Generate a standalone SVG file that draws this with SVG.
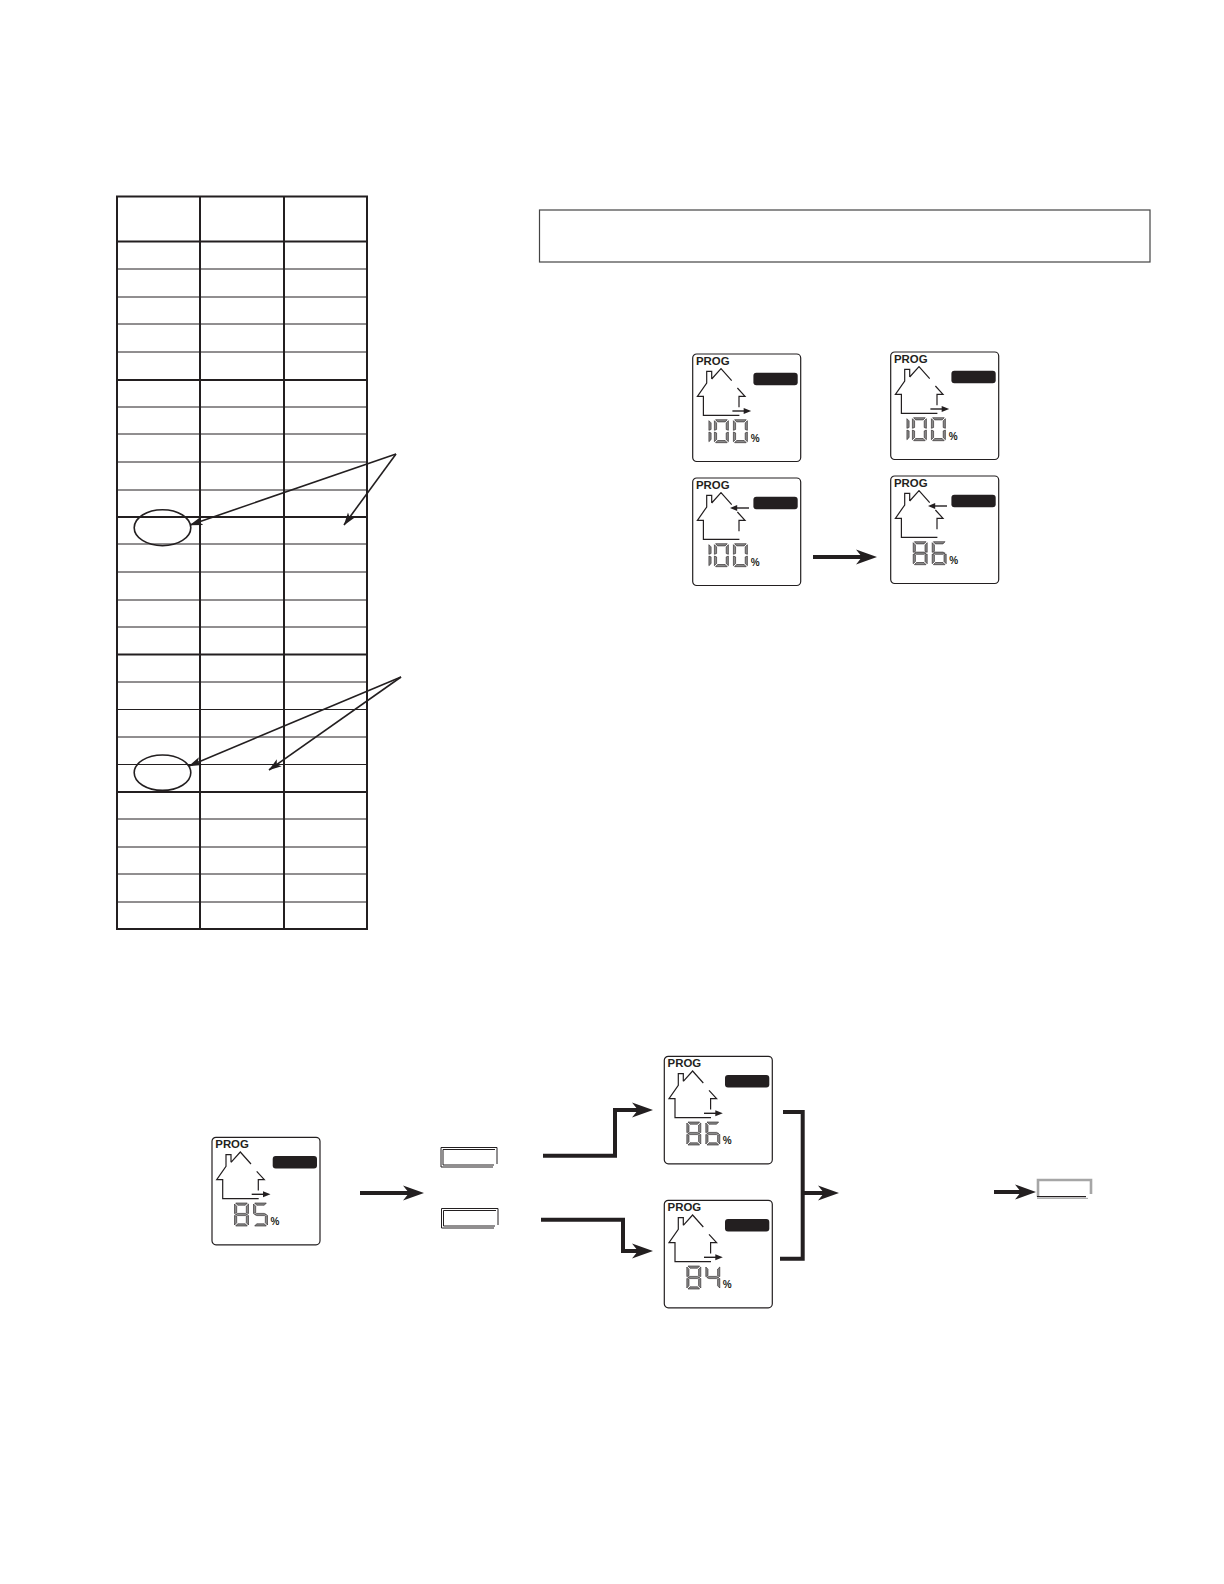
<svg xmlns="http://www.w3.org/2000/svg" width="1224" height="1584" viewBox="0 0 1224 1584">
<style>
.thin{stroke:#231f20;stroke-width:1;fill:none}
.thick{stroke:#231f20;stroke-width:2;fill:none}
.ell{stroke:#231f20;stroke-width:1.6;fill:none}
.ptr{stroke:#231f20;stroke-width:1.6;fill:none;marker-end:url(#ptrHead)}
.flow{stroke:#231f20;stroke-width:4;fill:none;marker-end:url(#flowHead)}
.brk{stroke:#231f20;stroke-width:4;fill:none}
.box{fill:#fff;stroke:#231f20;stroke-width:1.2}
.hs{fill:none;stroke:#231f20;stroke-width:1.2}
.pill{fill:#231f20}
.seg{fill:#8a8a8a;stroke:#231f20;stroke-width:.6}
.prog{font:bold 11.4px "Liberation Sans",Arial,sans-serif;fill:#231f20}
.pct{font:bold 10px "Liberation Sans",Arial,sans-serif;fill:#231f20}
.btn{fill:none;stroke:#231f20;stroke-width:1}
</style>
<defs>
<marker id="ptrHead" markerUnits="userSpaceOnUse" viewBox="0 -5 13 10" refX="12.5" refY="0" markerWidth="13" markerHeight="10" orient="auto"><polygon points="0,-4.2 13,0 0,4.2 3,0" fill="#231f20"/></marker>
<marker id="flowHead" markerUnits="userSpaceOnUse" viewBox="0 -8 22 16" refX="6" refY="0" markerWidth="22" markerHeight="16" orient="auto"><polygon points="0,-7.5 21,0 0,7.5 6,0" fill="#231f20"/></marker>
<polygon id="sa" class="seg" points="1.2,0 12.8,0 10.8,2.2 3.2,2.2"/>
<polygon id="sb" class="seg" points="14,1 14,10.6 11.8,9.8 11.8,3.2"/>
<polygon id="sc" class="seg" points="14,12.4 14,22 11.8,19.8 11.8,13.2"/>
<polygon id="sd" class="seg" points="3.2,20.8 10.8,20.8 12.8,23 1.2,23"/>
<polygon id="se" class="seg" points="0,12.4 2.2,13.2 2.2,19.8 0,22"/>
<polygon id="sf" class="seg" points="0,1 2.2,3.2 2.2,9.8 0,10.6"/>
<polygon id="sg" class="seg" points="1,11.5 3.2,10.4 10.8,10.4 13,11.5 10.8,12.6 3.2,12.6"/>
<g id="d0"><use href="#sa"/><use href="#sb"/><use href="#sc"/><use href="#sd"/><use href="#se"/><use href="#sf"/></g>
<g id="d1"><use href="#se" x="0.5"/><use href="#sf" x="0.5"/></g>
<g id="d4"><use href="#sb"/><use href="#sc"/><use href="#sf"/><use href="#sg"/></g>
<g id="d5"><use href="#sa"/><use href="#sc"/><use href="#sd"/><use href="#sf"/><use href="#sg"/></g>
<g id="d6"><use href="#sa"/><use href="#sc"/><use href="#sd"/><use href="#se"/><use href="#sf"/><use href="#sg"/></g>
<g id="d8"><use href="#d0"/><use href="#sg"/></g>
<g id="lcdBase">
<rect class="box" width="108" height="107.5" rx="4"/>
<rect class="pill" x="60.7" y="18.7" width="44.3" height="12.6" rx="3"/>
<path class="hs" d="M19,25V17.3H14V29L4.7,42.3H10.7V61.3H46.7M19,25L28.3,14.7L39,26.7M44.7,34L52.3,42.3H46.3V53.3"/>
</g>
<g id="arOut"><path d="M39.7,57H53" stroke="#231f20" stroke-width="1.4"/><polygon points="51,54 58.5,57 51,60" fill="#231f20"/></g>
<g id="arIn"><path d="M56.3,30H43" stroke="#231f20" stroke-width="1.4"/><polygon points="44.5,27 37.3,30 44.5,33" fill="#231f20"/></g>
</defs>
<rect width="1224" height="1584" fill="#fff"/>
<g id="table">
<rect class="thick" x="117" y="196.5" width="250" height="732.5"/>
<path class="thick" d="M200,196V929M284,196V929M117,241.5H367M117,380H367M117,517H367M117,654.5H367M117,792H367"/>
<path class="thin" d="M117,269H367M117,297H367M117,324H367M117,352H367M117,407H367M117,434H367M117,462H367M117,490H367M117,544H367M117,572H367M117,600H367M117,627H367M117,682H367M117,709.5H367M117,737H367M117,764.5H367M117,819H367M117,847H367M117,874H367M117,902H367"/>
</g>
<g id="note-box"><rect x="539.5" y="210" width="610.5" height="52" fill="none" stroke="#444" stroke-width="1.2"/></g>
<g id="lcd-prog-out-100" transform="translate(692.7,354)"><use href="#lcdBase"/><use href="#arOut"/><text class="prog" x="3.3" y="11">PROG</text><use href="#d1" x="15.7" y="65.7"/><use href="#d0" x="21.7" y="65.7"/><use href="#d0" x="40.7" y="65.7"/><text class="pct" x="58" y="87.5">%</text></g>
<g id="lcd-set-out-100" transform="translate(890.7,352)"><use href="#lcdBase"/><use href="#arOut"/><text class="prog" x="3.3" y="11">PROG</text><use href="#d1" x="15.7" y="65.7"/><use href="#d0" x="21.7" y="65.7"/><use href="#d0" x="40.7" y="65.7"/><text class="pct" x="58" y="87.5">%</text></g>
<g id="lcd-prog-in-100" transform="translate(692.7,478)"><use href="#lcdBase"/><use href="#arIn"/><text class="prog" x="3.3" y="11">PROG</text><use href="#d1" x="15.7" y="65.7"/><use href="#d0" x="21.7" y="65.7"/><use href="#d0" x="40.7" y="65.7"/><text class="pct" x="58" y="87.5">%</text></g>
<g id="lcd-set-in-86" transform="translate(890.7,476)"><use href="#lcdBase"/><use href="#arIn"/><text class="prog" x="3.3" y="11">PROG</text><use href="#d8" x="22.5" y="65.7"/><use href="#d6" x="41.5" y="65.7"/><text class="pct" x="58.5" y="87.5">%</text></g>
<g id="lcd-85" transform="translate(212,1137.3)"><use href="#lcdBase"/><use href="#arOut"/><text class="prog" x="3.3" y="11">PROG</text><use href="#d8" x="22.5" y="65.7"/><use href="#d5" x="41.5" y="65.7"/><text class="pct" x="58.5" y="87.5">%</text></g>
<g id="lcd-86" transform="translate(664.3,1056.3)"><use href="#lcdBase"/><use href="#arOut"/><text class="prog" x="3.3" y="11">PROG</text><use href="#d8" x="22.5" y="65.7"/><use href="#d6" x="41.5" y="65.7"/><text class="pct" x="58.5" y="87.5">%</text></g>
<g id="lcd-84" transform="translate(664.3,1200.3)"><use href="#lcdBase"/><use href="#arOut"/><text class="prog" x="3.3" y="11">PROG</text><use href="#d8" x="22.5" y="65.7"/><use href="#d4" x="41.5" y="65.7"/><text class="pct" x="58.5" y="87.5">%</text></g>
<g id="button-up"><path class="btn" d="M497,1164V1147.5H441V1167H493"/><path class="btn" d="M495,1149.5H443V1165H494"/></g>
<g id="button-down"><path class="btn" d="M498,1225V1208.5H441.5V1228H494"/><path class="btn" d="M496,1210.5H443.5V1226H495"/></g>
<g id="button-enter">
<path d="M1038,1197V1180H1091V1194" fill="none" stroke="#a6a6a6" stroke-width="2.6"/>
<path d="M1037,1196.6H1086" stroke="#231f20" stroke-width="1.2"/>
<path d="M1037,1198.4H1088" stroke="#a6a6a6" stroke-width="1"/>
</g>
<g id="connectors">
<ellipse class="ell" cx="162.5" cy="527.7" rx="28.3" ry="18"/>
<ellipse class="ell" cx="162.5" cy="772.7" rx="28.3" ry="17.7"/>
<path class="ptr" d="M396,454L190,525"/>
<path class="ptr" d="M396,454L344,525"/>
<path class="ptr" d="M401,677L189,766"/>
<path class="ptr" d="M401,677L269,770"/>
<path class="flow" d="M813,557H862"/>
<path class="flow" d="M360,1193H409"/>
<path class="flow" d="M543,1155.7H615V1110H638"/>
<path class="flow" d="M541,1219.7H623V1251H638"/>
<path class="brk" d="M783,1112H802.7V1258.7H780"/>
<path class="flow" d="M802.7,1193H824"/>
<path class="flow" d="M994,1192H1021"/>
</g>
</svg>
